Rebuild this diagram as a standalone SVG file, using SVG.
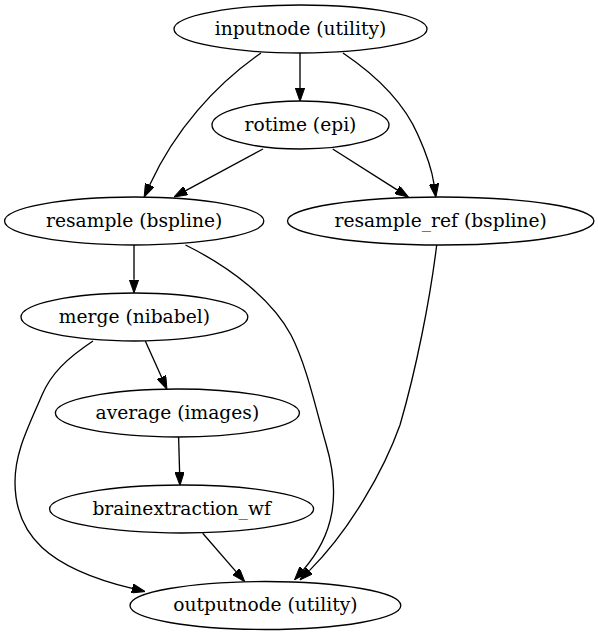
<svg xmlns="http://www.w3.org/2000/svg" width="598" height="635" viewBox="0 0 598 635">
<style>
ellipse.n{fill:#ffffff;stroke:#000000;stroke-width:1.33}
text.t{font-family:"DejaVu Serif","Liberation Serif",serif;font-size:18.67px;text-anchor:middle;fill:#000000}
path.e{fill:none;stroke:#000000;stroke-width:1.33;marker-end:url(#arr)}
</style>
<defs>
<marker id="arr" markerUnits="userSpaceOnUse" viewBox="0 0 13.33 9.33" markerWidth="13.33" markerHeight="9.33" refX="0" refY="4.67" orient="auto">
<path d="M0,0 L13.33,4.67 L0,9.33 Z" fill="#000000" stroke="#000000" stroke-width="1"/>
</marker>
</defs>
<rect width="598" height="635" fill="#ffffff"/>
<g id="edges">
<path class="e" d="M300,53 L300,88"/>
<path class="e" d="M261,53 C215,85 175,130 149.7,185"/>
<path class="e" d="M343,53 C380,78 405,105 418,135 C427,155 432,170 434,184"/>
<path class="e" d="M263,149 L185.7,190.7"/>
<path class="e" d="M332.7,149 L397.1,189.9"/>
<path class="e" d="M134,245 L134,279.7"/>
<path class="e" d="M185.5,245 C232,268 272,300 291,335 C307,366 316,410 326,444 C341,495 334,535 303.3,569.9"/>
<path class="e" d="M436.7,245 C430,300 416,370 400,425 C384,470 350,530 309.4,570.6"/>
<path class="e" d="M145.3,341 L161.5,377.1"/>
<path class="e" d="M93,341 C66,359 51,374 42,395 C28,428 15,452 15,482 C15,535 48,568 132.1,588.4"/>
<path class="e" d="M178.6,437 L179.6,472"/>
<path class="e" d="M202.7,533.3 L236,571.6"/>
</g>
<g id="inputnode"><ellipse class="n" cx="300.5" cy="29" rx="126.5" ry="24"/><text class="t" x="300.5" y="34.6">inputnode (utility)</text></g>
<g id="rotime"><ellipse class="n" cx="300.5" cy="125" rx="88.5" ry="24"/><text class="t" x="300.5" y="130.6">rotime (epi)</text></g>
<g id="resample"><ellipse class="n" cx="134.2" cy="221" rx="129.6" ry="24"/><text class="t" x="134.2" y="226.6">resample (bspline)</text></g>
<g id="resample_ref"><ellipse class="n" cx="440.7" cy="221" rx="153.2" ry="24"/><text class="t" x="440.7" y="226.6">resample_ref (bspline)</text></g>
<g id="merge"><ellipse class="n" cx="134.4" cy="317" rx="113.4" ry="24"/><text class="t" x="134.4" y="322.6">merge (nibabel)</text></g>
<g id="average"><ellipse class="n" cx="177.4" cy="413" rx="122" ry="24"/><text class="t" x="177.4" y="418.6">average (images)</text></g>
<g id="brainextraction_wf"><ellipse class="n" cx="181.6" cy="509" rx="132" ry="24"/><text class="t" x="181.6" y="514.6">brainextraction_wf</text></g>
<g id="outputnode"><ellipse class="n" cx="265.4" cy="605.5" rx="135.4" ry="24"/><text class="t" x="265.4" y="611.1">outputnode (utility)</text></g>
</svg>
